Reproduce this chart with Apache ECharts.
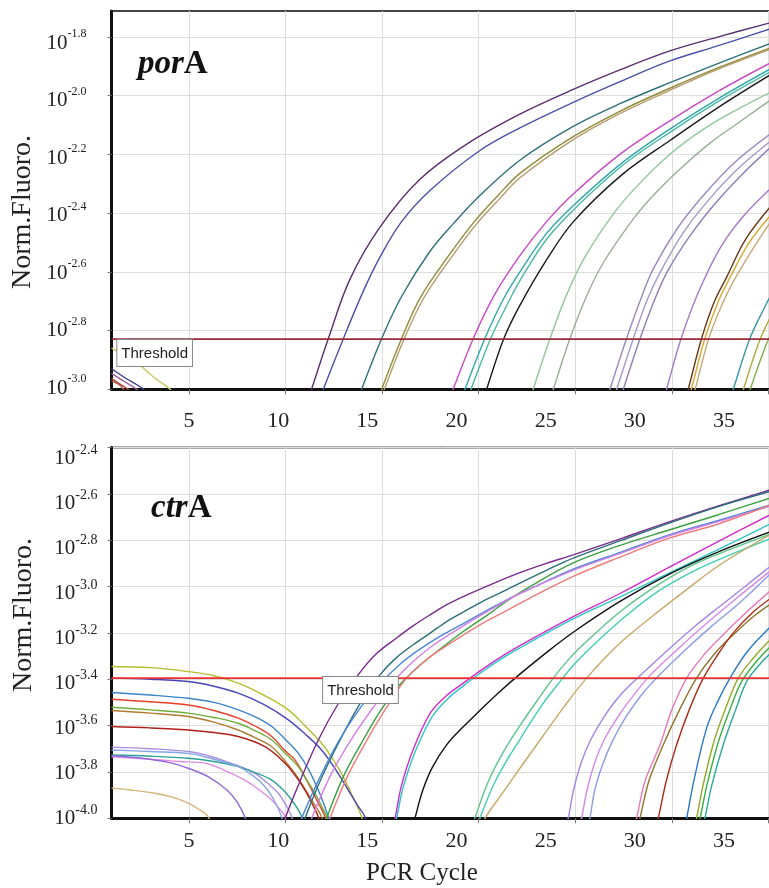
<!DOCTYPE html>
<html><head><meta charset="utf-8">
<script src="https://cdn.jsdelivr.net/npm/echarts@6/dist/echarts.min.js"></script>
<style>html,body{margin:0;padding:0;background:#fff}#c{width:769px;height:888px}</style>
</head><body><div id="c"></div>
<script>
// ---------- tick labels ----------
const xTicks = [5, 10, 15, 20, 25, 30, 35];
const porYTicks = [-3.0, -2.8, -2.6, -2.4, -2.2, -2.0, -1.8];
const ctrYTicks = [-4.0, -3.8, -3.6, -3.4, -3.2, -3.0, -2.8, -2.6, -2.4];
const porThreshold = -2.829;
const ctrThreshold = -3.395;

// ---------- porA curves: [cycle, log10(Norm.Fluoro.)] ----------
const porS1 = [[1,-2.93],[1.8,-2.965],[2.65,-3.0],[3.0,-3.03]];
const porS2 = [[1,-2.946],[1.7,-2.975],[2.3,-3.0],[2.6,-3.03]];
const porS3 = [[1,-2.963],[1.5,-2.985],[1.85,-3.0],[2.1,-3.03]];
const porS4 = [[1,-2.972],[1.5,-2.99],[1.8,-3.03]];
const porS5 = [[1,-2.86],[2.13,-2.9],[3.2,-2.96],[4.03,-3.0],[4.3,-3.03]];
const porT1 = [[11.1,-3.05],[11.35,-3.0],[12.22,-2.827],[13.34,-2.625],[14.89,-2.448],[16.96,-2.285],[19.38,-2.165],[22.13,-2.063],[24.89,-1.979],[27.4,-1.91],[29.89,-1.848],[32.4,-1.8],[35.2,-1.75]];
const porT2 = [[11.7,-3.05],[11.96,-3.0],[13.0,-2.827],[14.0,-2.67],[14.89,-2.55],[16.0,-2.43],[17.48,-2.323],[20.06,-2.187],[22.13,-2.11],[24.89,-2.023],[27.4,-1.95],[29.89,-1.882],[32.4,-1.83],[35.2,-1.77]];
const porT3 = [[13.7,-3.05],[13.94,-3.0],[14.98,-2.827],[16.0,-2.685],[17.48,-2.53],[18.7,-2.435],[20.06,-2.34],[22.13,-2.22],[24.89,-2.105],[27.4,-2.025],[29.89,-1.956],[32.4,-1.89],[35.2,-1.82]];
const porT4 = [[14.75,-3.05],[14.98,-3.0],[16.01,-2.827],[17.0,-2.685],[18.5,-2.54],[19.7,-2.435],[20.93,-2.345],[22.13,-2.265],[24.89,-2.14],[27.4,-2.05],[29.89,-1.975],[32.4,-1.905],[35.2,-1.835]];
const porT5 = [[14.9,-3.05],[15.12,-3.0],[16.15,-2.827],[17.15,-2.69],[18.65,-2.545],[19.85,-2.44],[21.1,-2.35],[22.13,-2.28],[24.89,-2.15],[27.4,-2.058],[29.89,-1.982],[32.4,-1.91],[35.2,-1.84]];
const porT6 = [[18.45,-3.05],[18.68,-3.0],[19.72,-2.827],[20.8,-2.68],[22.13,-2.545],[23.5,-2.43],[24.89,-2.335],[27.4,-2.195],[29.89,-2.086],[32.4,-1.985],[35.2,-1.885]];
const porT7 = [[19.05,-3.05],[19.29,-3.0],[20.32,-2.827],[21.3,-2.69],[22.13,-2.6],[23.5,-2.47],[24.89,-2.375],[27.4,-2.23],[29.89,-2.114],[32.4,-2.01],[35.2,-1.905]];
const porT8 = [[19.35,-3.05],[19.6,-3.0],[20.62,-2.827],[21.6,-2.695],[22.13,-2.63],[23.5,-2.49],[24.89,-2.39],[27.4,-2.24],[29.89,-2.125],[32.4,-2.02],[35.2,-1.915]];
const porT9 = [[20.2,-3.05],[20.41,-3.0],[21.3,-2.827],[22.13,-2.714],[23.5,-2.56],[24.89,-2.43],[27.4,-2.27],[29.89,-2.153],[32.4,-2.04],[35.2,-1.925]];
const porT10 = [[22.6,-3.05],[22.82,-3.0],[23.69,-2.827],[24.6,-2.67],[25.58,-2.54],[27.0,-2.4],[28.17,-2.31],[29.89,-2.2],[31.5,-2.12],[33.3,-2.05],[35.2,-1.985]];
const porT11 = [[23.64,-3.05],[23.86,-3.0],[24.72,-2.827],[25.6,-2.68],[26.44,-2.57],[28.0,-2.42],[29.03,-2.34],[30.5,-2.245],[32.0,-2.16],[33.6,-2.085],[35.2,-2.01]];
const porT12 = [[26.57,-3.05],[26.79,-3.0],[27.65,-2.827],[28.4,-2.69],[29.03,-2.59],[30.3,-2.45],[31.62,-2.34],[33.2,-2.23],[35.2,-2.125]];
const porT13 = [[26.92,-3.05],[27.14,-3.0],[28.0,-2.827],[28.75,-2.69],[29.4,-2.6],[30.6,-2.465],[31.9,-2.355],[33.4,-2.25],[35.2,-2.15]];
const porT14 = [[27.26,-3.05],[27.48,-3.0],[28.35,-2.827],[29.1,-2.695],[29.75,-2.6],[30.9,-2.48],[32.2,-2.37],[33.6,-2.27],[35.2,-2.17]];
const porT15 = [[29.5,-3.05],[29.72,-3.0],[30.41,-2.84],[31.3,-2.68],[32.48,-2.52],[33.7,-2.41],[35.2,-2.31]];
const porT16 = [[30.62,-3.05],[30.84,-3.0],[31.53,-2.827],[32.2,-2.7],[32.83,-2.618],[33.8,-2.49],[35.2,-2.37]];
const porT17 = [[30.78,-3.05],[31.0,-3.0],[31.7,-2.827],[32.4,-2.7],[33.0,-2.62],[34.0,-2.5],[35.2,-2.4]];
const porT18 = [[30.98,-3.05],[31.2,-3.0],[31.9,-2.827],[32.6,-2.71],[33.2,-2.63],[34.2,-2.52],[35.2,-2.42]];
const porT19 = [[32.95,-3.05],[33.17,-3.0],[34.03,-2.827],[34.8,-2.72],[35.2,-2.67]];
const porT20 = [[33.48,-3.05],[33.7,-3.0],[34.5,-2.84],[35.2,-2.74]];
const porT21 = [[33.83,-3.05],[34.05,-3.0],[34.8,-2.86],[35.2,-2.8]];

// ---------- ctrA curves: [cycle, log10(Norm.Fluoro.)] ----------
const ctrB1 = [[1,-3.345],[3,-3.35],[4.97,-3.367],[6.3,-3.385],[7.56,-3.417],[8.9,-3.47],[10.15,-3.532],[11.0,-3.6],[11.87,-3.676],[12.5,-3.75],[13.08,-3.835],[13.5,-3.91],[13.94,-3.993],[14.1,-4.05]];
const ctrB2 = [[1,-3.395],[3,-3.4],[4.97,-3.41],[6.3,-3.43],[7.56,-3.46],[8.9,-3.51],[10.15,-3.575],[11.0,-3.635],[11.87,-3.705],[12.6,-3.79],[13.25,-3.878],[13.7,-3.94],[14.11,-3.993],[14.3,-4.05]];
const ctrB3 = [[1,-3.457],[3,-3.468],[4.97,-3.482],[6.3,-3.5],[7.56,-3.532],[8.5,-3.565],[9.29,-3.604],[10.0,-3.66],[10.66,-3.719],[11.2,-3.79],[11.7,-3.878],[12.22,-3.993],[12.4,-4.05]];
const ctrB4 = [[1,-3.486],[3,-3.497],[4.97,-3.511],[6.3,-3.535],[7.56,-3.568],[8.5,-3.605],[9.29,-3.647],[10.0,-3.71],[10.49,-3.748],[11.0,-3.82],[11.36,-3.878],[11.7,-3.935],[12.05,-3.993],[12.2,-4.05]];
const ctrB5 = [[1,-3.521],[3,-3.532],[4.97,-3.546],[6.3,-3.565],[7.56,-3.59],[8.5,-3.625],[9.29,-3.662],[10.0,-3.72],[10.66,-3.777],[11.1,-3.835],[11.53,-3.892],[11.85,-3.945],[12.13,-3.993],[12.3,-4.05]];
const ctrB6 = [[1,-3.535],[3,-3.546],[4.97,-3.561],[6.3,-3.585],[7.56,-3.619],[8.5,-3.655],[9.29,-3.691],[9.9,-3.745],[10.49,-3.806],[10.95,-3.865],[11.36,-3.921],[11.87,-3.993],[12.05,-4.05]];
const ctrB7 = [[1,-3.604],[3,-3.61],[4.97,-3.619],[6.3,-3.63],[7.56,-3.647],[8.94,-3.691],[9.98,-3.762],[10.5,-3.815],[11.01,-3.878],[11.4,-3.94],[11.7,-3.993],[11.85,-4.05]];
const ctrB8 = [[1,-3.693],[3,-3.7],[4.97,-3.712],[6.0,-3.73],[6.7,-3.748],[7.6,-3.775],[8.42,-3.806],[9.1,-3.85],[9.63,-3.892],[10.0,-3.94],[10.32,-3.993],[10.45,-4.05]];
const ctrB9 = [[1,-3.727],[3,-3.732],[4.97,-3.741],[6.3,-3.755],[7.56,-3.777],[8.5,-3.805],[9.29,-3.835],[9.85,-3.875],[10.32,-3.921],[10.6,-3.955],[10.84,-3.993],[11.0,-4.05]];
const ctrB10 = [[1,-3.735],[3,-3.745],[4.5,-3.755],[5.84,-3.762],[6.9,-3.795],[7.9,-3.835],[8.6,-3.875],[9.29,-3.921],[9.7,-3.96],[9.98,-3.993],[10.1,-4.05]];
const ctrB11 = [[1,-3.705],[3,-3.712],[4.97,-3.72],[6.3,-3.745],[7.56,-3.777],[8.3,-3.815],[8.94,-3.863],[9.4,-3.92],[9.8,-3.993],[9.95,-4.05]];
const ctrB12 = [[1,-3.73],[2.5,-3.74],[4,-3.76],[5,-3.785],[6,-3.82],[7,-3.88],[7.5,-3.93],[7.9,-3.995],[8.0,-4.05]];
const ctrB13 = [[1,-3.87],[2,-3.878],[3.25,-3.892],[4.2,-3.91],[4.97,-3.935],[5.5,-3.96],[6.0,-3.993],[6.2,-4.05]];
const ctrR1 = [[9.8,-4.05],[9.98,-4.0],[10.8,-3.83],[11.7,-3.662],[12.7,-3.51],[13.77,-3.38],[14.7,-3.29],[15.75,-3.222],[16.6,-3.17],[17.48,-3.122],[18.3,-3.08],[19.2,-3.043],[20.8,-2.985],[22.13,-2.94],[23.5,-2.9],[24.89,-2.863],[27.4,-2.792],[29.89,-2.72],[32.4,-2.652],[35.2,-2.58]];
const ctrR2 = [[10.85,-4.05],[11.01,-4.0],[11.9,-3.82],[12.9,-3.65],[13.9,-3.5],[14.89,-3.381],[15.7,-3.31],[16.61,-3.251],[17.5,-3.2],[18.34,-3.151],[19.2,-3.11],[20.06,-3.07],[21.3,-3.02],[22.13,-2.985],[23.5,-2.93],[24.89,-2.877],[27.4,-2.8],[29.89,-2.725],[32.4,-2.655],[35.2,-2.587]];
const ctrR3 = [[10.7,-4.05],[10.84,-4.0],[11.8,-3.82],[12.8,-3.66],[13.9,-3.52],[14.89,-3.42],[16.0,-3.33],[16.96,-3.27],[18.1,-3.21],[19.2,-3.16],[20.5,-3.1],[21.5,-3.055],[22.65,-3.01],[24.89,-2.925],[27.4,-2.85],[29.89,-2.776],[32.4,-2.715],[35.2,-2.645]];
const ctrR4 = [[12.0,-4.05],[12.13,-4.0],[13.0,-3.82],[13.9,-3.68],[14.89,-3.54],[15.9,-3.425],[16.96,-3.34],[18.0,-3.27],[19.2,-3.194],[20.5,-3.12],[21.5,-3.06],[22.65,-3.0],[24.89,-2.898],[27.4,-2.82],[29.89,-2.755],[32.4,-2.69],[35.2,-2.615]];
const ctrR5 = [[11.2,-4.05],[11.36,-4.0],[12.3,-3.82],[13.4,-3.66],[14.89,-3.482],[15.8,-3.39],[16.61,-3.323],[17.7,-3.25],[19.2,-3.17],[20.5,-3.105],[22.13,-3.03],[24.89,-2.93],[27.4,-2.855],[29.89,-2.78],[32.4,-2.72],[35.2,-2.65]];
const ctrR6 = [[12.1,-4.05],[12.3,-4.0],[13.2,-3.82],[14.3,-3.65],[15.4,-3.5],[16.27,-3.395],[17.3,-3.315],[18.34,-3.255],[20.06,-3.165],[21.3,-3.11],[22.65,-3.05],[24.89,-2.956],[27.4,-2.87],[29.89,-2.79],[32.4,-2.73],[35.2,-2.645]];
const ctrR7 = [[15.5,-4.05],[15.67,-4.0],[16.0,-3.86],[16.6,-3.705],[17.5,-3.545],[18.34,-3.47],[19.4,-3.405],[20.06,-3.365],[20.93,-3.315],[22.13,-3.255],[24.89,-3.13],[27.31,-3.03],[29.89,-2.915],[32.4,-2.805],[35.2,-2.685]];
const ctrR8 = [[15.58,-4.05],[15.75,-4.0],[16.08,-3.87],[16.7,-3.715],[17.6,-3.56],[18.45,-3.48],[19.5,-3.41],[20.15,-3.37],[20.93,-3.325],[22.13,-3.265],[24.89,-3.14],[27.31,-3.045],[29.89,-2.94],[32.4,-2.84],[35.2,-2.725]];
const ctrR9 = [[16.55,-4.05],[16.7,-4.0],[17.1,-3.88],[17.6,-3.78],[18.34,-3.683],[19.2,-3.605],[20.06,-3.535],[21.0,-3.46],[22.13,-3.378],[23.5,-3.285],[24.89,-3.197],[27.31,-3.064],[29.89,-2.945],[32.4,-2.85],[35.2,-2.76]];
const ctrR10 = [[19.62,-4.05],[19.8,-4.0],[20.5,-3.84],[21.3,-3.71],[22.13,-3.6],[23.0,-3.495],[23.86,-3.395],[24.7,-3.31],[25.58,-3.237],[27.3,-3.11],[29.03,-3.006],[31.0,-2.91],[33.0,-2.84],[35.2,-2.77]];
const ctrR11 = [[19.88,-4.05],[20.06,-4.0],[20.8,-3.85],[21.6,-3.73],[22.13,-3.66],[23.2,-3.52],[24.2,-3.41],[25.0,-3.33],[25.9,-3.255],[27.5,-3.135],[29.2,-3.025],[31.2,-2.93],[33.1,-2.86],[35.2,-2.79]];
const ctrR12 = [[20.1,-4.05],[20.32,-4.0],[21.2,-3.895],[22.13,-3.784],[23.3,-3.648],[24.4,-3.52],[25.58,-3.395],[27.3,-3.245],[29.03,-3.125],[30.8,-3.01],[32.48,-2.906],[35.2,-2.77]];
const ctrR13 = [[24.45,-4.05],[24.63,-4.0],[24.9,-3.88],[25.3,-3.76],[25.8,-3.66],[26.5,-3.56],[27.31,-3.47],[28.34,-3.385],[29.89,-3.266],[31.2,-3.17],[32.48,-3.085],[33.7,-3.005],[35.2,-2.905]];
const ctrR14 = [[25.15,-4.05],[25.32,-4.0],[25.6,-3.88],[26.0,-3.76],[26.5,-3.66],[27.3,-3.55],[28.1,-3.46],[28.9,-3.38],[30.3,-3.27],[31.7,-3.165],[33.2,-3.06],[35.2,-2.925]];
const ctrR15 = [[25.58,-4.05],[25.75,-4.0],[26.0,-3.88],[26.4,-3.77],[26.9,-3.67],[27.6,-3.565],[28.4,-3.47],[29.2,-3.395],[30.6,-3.28],[32.0,-3.175],[33.5,-3.07],[35.2,-2.935]];
const ctrR16 = [[28.0,-4.05],[28.17,-4.0],[28.6,-3.84],[29.38,-3.683],[30.0,-3.53],[30.76,-3.395],[31.6,-3.3],[32.48,-3.222],[33.6,-3.13],[35.2,-3.01]];
const ctrR17 = [[28.17,-4.05],[28.34,-4.0],[28.8,-3.84],[29.55,-3.683],[30.4,-3.53],[31.27,-3.395],[32.2,-3.29],[33.17,-3.208],[34.2,-3.13],[35.2,-3.07]];
const ctrR18 = [[29.12,-4.05],[29.29,-4.0],[29.7,-3.84],[30.24,-3.683],[30.9,-3.53],[31.62,-3.395],[32.4,-3.29],[33.17,-3.2],[34.2,-3.11],[35.2,-3.045]];
const ctrR19 = [[30.6,-4.05],[30.76,-4.0],[31.1,-3.85],[31.79,-3.611],[32.4,-3.49],[33.0,-3.395],[33.9,-3.28],[35.2,-3.165]];
const ctrR20 = [[31.1,-4.05],[31.27,-4.0],[31.6,-3.86],[32.2,-3.66],[32.8,-3.52],[33.43,-3.395],[34.3,-3.3],[35.2,-3.22]];
const ctrR21 = [[31.28,-4.05],[31.45,-4.0],[31.8,-3.86],[32.4,-3.67],[33.0,-3.53],[33.6,-3.41],[34.4,-3.32],[35.2,-3.25]];
const ctrR22 = [[31.53,-4.05],[31.7,-4.0],[32.05,-3.86],[32.7,-3.67],[33.3,-3.53],[33.86,-3.41],[34.6,-3.33],[35.2,-3.28]];

// ---------- styles (kept separate from data) ----------
const porCurves = [porS1,porS2,porS3,porS4,porS5,porT1,porT2,porT3,porT4,porT5,porT6,porT7,porT8,porT9,porT10,porT11,porT12,porT13,porT14,porT15,porT16,porT17,porT18,porT19,porT20,porT21];
const porColors = ['#3a3a90','#a060a0','#c04040','#a06040','#c8c860','#5b2d6e','#4b50a8','#2e7078','#8e8c3a','#b89a6a','#c848c8','#30a8a8','#48b8a0','#1a1a1a','#8ec89a','#98ae98','#9a88c0','#a898c8','#8e7cb8','#a878c8','#6a3818','#d8a830','#c8a878','#3898a8','#b0a840','#7ab048'];
const ctrCurves = [ctrB1,ctrB2,ctrB3,ctrB4,ctrB5,ctrB6,ctrB7,ctrB8,ctrB9,ctrB10,ctrB11,ctrB12,ctrB13,ctrR1,ctrR2,ctrR3,ctrR4,ctrR5,ctrR6,ctrR7,ctrR8,ctrR9,ctrR10,ctrR11,ctrR12,ctrR13,ctrR14,ctrR15,ctrR16,ctrR17,ctrR18,ctrR19,ctrR20,ctrR21,ctrR22];
const ctrColors = ['#b5bd2e','#4a45b8','#3a86c8','#e8402a','#6fae3a','#b07a30','#b0201a','#a88ee0','#2aa395','#e08ce6','#88a6e6','#9068d8','#d4b478','#7a2a8e','#2a6f78','#4a86d8','#3aa040','#d67ee6','#f07a7a','#d02ad0','#2ac6c6','#111111','#5cc48a','#40d0b0','#c8a868','#a484e4','#d888e8','#8c9ce6','#e67ab8','#8e7428','#b02a1a','#2a78c8','#94a828','#38b040','#2aa898'];

const SERIF = '"Liberation Serif","Times New Roman",serif';
const chart = echarts.init(document.getElementById('c'), null, {renderer: 'canvas'});

// data axes: gridlines, ticks and the curves
function xAxisCfg(g) {
  return {
    gridIndex: g, type: 'value', position: 'bottom', min: 1, max: 35.2, splitNumber: 7,
    axisLine: {show: true, onZero: false, lineStyle: {color: '#111', width: 3}},
    axisTick: {show: true, customValues: xTicks, length: 5, lineStyle: {color: '#777'}},
    axisLabel: {show: false},
    splitLine: {show: true, lineStyle: {color: '#dddddd', width: 1}}
  };
}
function yAxisCfg(g, min, max, ticks) {
  return {
    gridIndex: g, type: 'value', position: 'left', min: min, max: max, interval: 0.2,
    axisLine: {show: true, onZero: false, lineStyle: {color: '#111', width: 3}},
    axisTick: {show: true, customValues: ticks, length: 4, lineStyle: {color: '#777'}},
    axisLabel: {show: false},
    splitLine: {show: true, lineStyle: {color: '#dddddd', width: 1}}
  };
}
// label axes: the tick labels of the figure were typeset on a slightly compressed scale
function xLabelAxis(g, min, max, margin) {
  return {
    gridIndex: g, type: 'value', position: 'bottom', min: min, max: max,
    axisLine: {show: false}, axisTick: {show: false}, splitLine: {show: false},
    axisLabel: {customValues: xTicks, fontFamily: SERIF, fontSize: 22, color: '#222', margin: margin}
  };
}
function yLabelAxis(g, min, max, ticks, margin, supSize) {
  return {
    gridIndex: g, type: 'value', position: 'left', min: min, max: max,
    axisLine: {show: false}, axisTick: {show: false}, splitLine: {show: false},
    axisLabel: {
      customValues: ticks, margin: margin, verticalAlign: 'middle',
      formatter: v => '{b|10}{s|' + v.toFixed(1) + '}',
      rich: {
        b: {fontFamily: SERIF, fontSize: 21, color: '#222', lineHeight: 30},
        s: {fontFamily: SERIF, fontSize: supSize, color: '#222', verticalAlign: 'top'}
      }
    }
  };
}

const series = [];
porCurves.forEach((d, i) => series.push({
  type: 'line', xAxisIndex: 0, yAxisIndex: 0, data: d, smooth: 0.35, showSymbol: false,
  clip: true, silent: true, lineStyle: {color: porColors[i], width: 1.4}, z: 2
}));
ctrCurves.forEach((d, i) => series.push({
  type: 'line', xAxisIndex: 1, yAxisIndex: 1, data: d, smooth: 0.35, showSymbol: false,
  clip: true, silent: true, lineStyle: {color: ctrColors[i], width: 1.4}, z: 2
}));
series.push({type: 'line', xAxisIndex: 0, yAxisIndex: 0, data: [[1, porThreshold], [35.2, porThreshold]],
  showSymbol: false, silent: true, lineStyle: {color: '#9a2a3a', width: 1.6}, z: 3});
series.push({type: 'line', xAxisIndex: 1, yAxisIndex: 1, data: [[1, ctrThreshold], [35.2, ctrThreshold]],
  showSymbol: false, silent: true, lineStyle: {color: '#ee3030', width: 1.8}, z: 3});

const option = {
  animation: false,
  backgroundColor: '#fff',
  grid: [
    {left: 111.5, top: 11, width: 661, height: 378.3, show: true, borderColor: '#444', borderWidth: 2, containLabel: false, outerBoundsMode: 'none'},
    {left: 111.5, top: 447.5, width: 661, height: 370.8, show: true, borderColor: '#555', borderWidth: 2, containLabel: false, outerBoundsMode: 'none'}
  ],
  xAxis: [xAxisCfg(0), xAxisCfg(1), xLabelAxis(0, 0.656, 37.72, 21), xLabelAxis(1, 0.656, 37.72, 12)],
  yAxis: [yAxisCfg(0, -3.0, -1.712, porYTicks), yAxisCfg(1, -4.0, -2.4, ctrYTicks),
          yLabelAxis(0, -3.0045, -1.6876, porYTicks, 25, 12), yLabelAxis(1, -4.0013, -2.3533, ctrYTicks, 14, 14)],
  series: series
};
chart.setOption(option);

const porLabelCycle = 1.3;
const ctrLabelCycle = 11.95;
const pT = chart.convertToPixel({gridIndex: 0}, [porLabelCycle, porThreshold]);
const pB = chart.convertToPixel({gridIndex: 1}, [ctrLabelCycle, ctrThreshold]);
const boxStyle = {
  text: 'Threshold', fontFamily: '"Liberation Sans",Arial,sans-serif', fontSize: 15, fill: '#222',
  backgroundColor: '#fff', borderColor: '#888', borderWidth: 1, padding: [6, 4, 5, 4]
};
chart.setOption({
  graphic: [
    {type: 'text', x: pT[0], y: pT[1] + 1, z: 10, style: Object.assign({}, boxStyle)},
    {type: 'text', x: pB[0], y: pB[1] - 1, z: 10, style: Object.assign({}, boxStyle)},
    {type: 'text', x: 138, y: 48, z: 10, style: {
      text: '{i|por}{b|A}', rich: {
        i: {fontFamily: SERIF, fontStyle: 'italic', fontWeight: 'bold', fontSize: 33, fill: '#111'},
        b: {fontFamily: SERIF, fontWeight: 'bold', fontSize: 33, fill: '#111'}}}},
    {type: 'text', x: 151, y: 492, z: 10, style: {
      text: '{i|ctr}{b|A}', rich: {
        i: {fontFamily: SERIF, fontStyle: 'italic', fontWeight: 'bold', fontSize: 33, fill: '#111'},
        b: {fontFamily: SERIF, fontWeight: 'bold', fontSize: 33, fill: '#111'}}}},
    {type: 'text', x: 23, y: 212, rotation: Math.PI / 2, style: {
      text: 'Norm.Fluoro.', fontFamily: SERIF, fontSize: 28, fill: '#222', align: 'center', verticalAlign: 'middle'}},
    {type: 'text', x: 24, y: 615, rotation: Math.PI / 2, style: {
      text: 'Norm.Fluoro.', fontFamily: SERIF, fontSize: 28, fill: '#222', align: 'center', verticalAlign: 'middle'}},
    {type: 'text', x: 422, y: 873, style: {
      text: 'PCR Cycle', fontFamily: SERIF, fontSize: 25, fill: '#222', align: 'center', verticalAlign: 'middle'}}
  ]
});
</script></body></html>
